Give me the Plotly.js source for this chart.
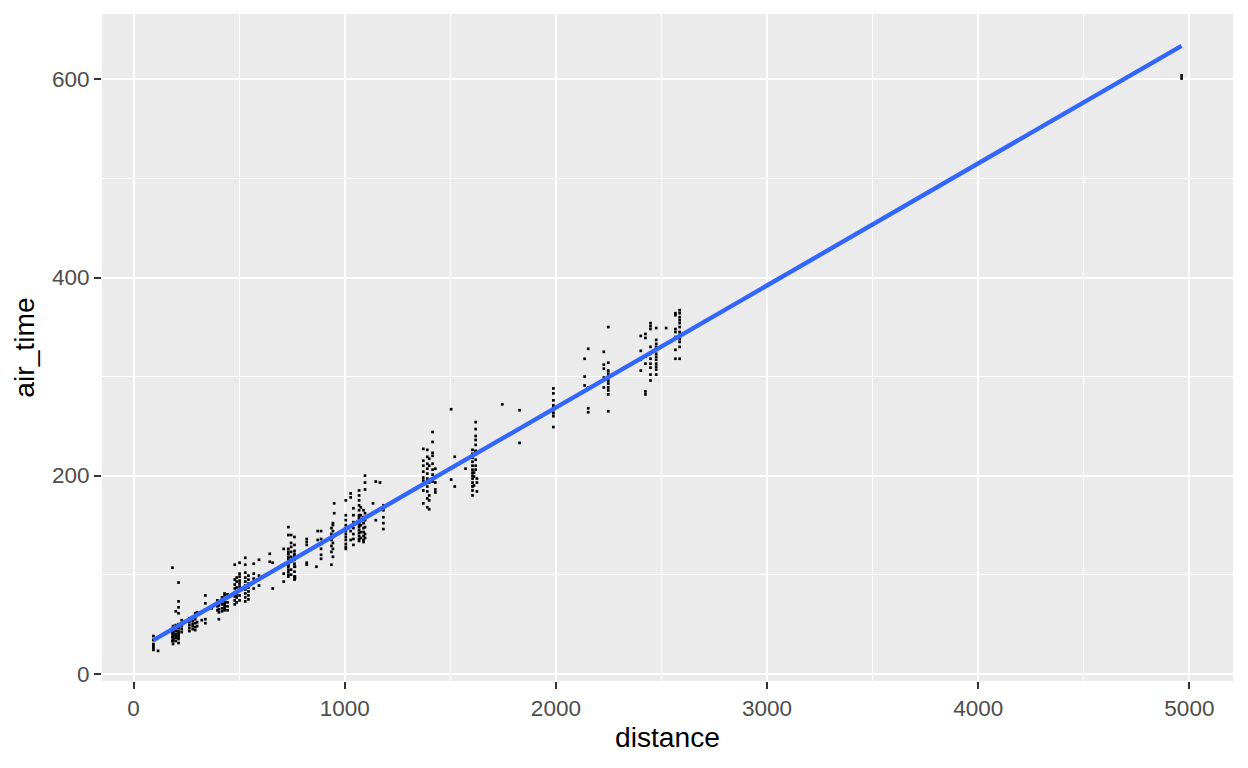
<!DOCTYPE html>
<html>
<head>
<meta charset="utf-8">
<script src="https://cdn.plot.ly/plotly-3.0.1.min.js"></script>
<style>
  html, body { margin: 0; padding: 0; background: #ffffff; }
  #chart { width: 1248px; height: 768px; }
</style>
</head>
<body>
<div id="chart"></div>
<script>
// Route distances (miles) and the air times (minutes) of the sampled flights on each
const routeDistance = [
  94, 116, 184, 187, 200, 213, 228, 264, 280, 292,
  301, 323, 340, 370, 397, 404, 419, 431, 445, 479,
  488, 502, 529, 544, 569, 594, 645, 659, 711, 733,
  746, 762, 764, 820, 866, 872, 888, 937, 944, 950,
  1005, 1028, 1041, 1068, 1076, 1089, 1096, 1134, 1147, 1167,
  1183, 1372, 1391, 1400, 1416, 1429, 1504, 1521, 1572, 1605,
  1612, 1620, 1626, 1746, 1828, 1988, 2136, 2153, 2227, 2248,
  2402, 2424, 2448, 2475, 2522, 2566, 2586, 4963
];
const routeAirTimes = [
  [38, 34, 30, 28, 26, 24],
  [23],
  [107, 33, 37, 41, 45],
  [30, 33, 35, 36, 38, 39, 40, 41, 42, 44, 46, 48],
  [33, 36, 38, 40, 43, 46, 49, 63],
  [31, 35, 37, 39, 41, 43, 46, 48, 50, 61, 67, 73, 92],
  [42, 45, 48, 50, 54],
  [43, 46, 49, 52, 56],
  [45, 48, 50, 53, 57],
  [44, 47, 51, 55, 58, 61],
  [48, 52, 62],
  [54],
  [51, 55, 71, 79],
  [66],
  [64, 68, 74],
  [55, 62, 65, 69, 72],
  [63, 66, 70, 73, 77],
  [64, 66, 68, 70, 72, 74, 76, 79, 81],
  [64, 68, 72, 80],
  [70, 74, 78, 82, 86, 90, 95, 110],
  [72, 77, 80, 83, 87, 93, 97],
  [74, 79, 84, 88, 91, 94, 98, 101, 112],
  [73, 77, 81, 85, 89, 93, 97, 102, 110, 117],
  [75, 79, 83, 87, 91, 95, 99],
  [86, 92, 96, 101, 111],
  [89, 99, 115],
  [121, 113],
  [86, 112],
  [93, 101, 110, 126],
  [148, 140, 126, 121, 116, 113, 110, 108, 105, 103, 118, 123, 98, 100],
  [140, 132, 128, 123, 118, 113, 105, 100],
  [138, 130, 124, 119, 115, 111, 108, 103, 98, 95, 121],
  [108, 98, 96],
  [136, 133, 130, 112, 110],
  [108],
  [144, 135],
  [144, 136, 131, 126, 120, 116],
  [110, 123, 129, 135, 141, 147],
  [126, 132, 138, 144, 150, 152, 118],
  [172, 162],
  [160, 155, 150, 147, 144, 141, 138, 135, 131, 128, 126, 175],
  [182, 178, 144, 135],
  [167, 160, 153, 147, 141, 136, 130],
  [185, 180, 175, 170, 165, 160, 156, 152, 148, 145, 142, 139, 136, 134, 150, 158],
  [168, 160, 150, 143, 137],
  [165, 158, 152, 147, 143, 139, 135, 133],
  [162, 155, 148, 141, 137, 200, 193, 186],
  [172],
  [194, 155],
  [193],
  [170, 165, 158, 152, 146],
  [227, 210, 204, 198, 185, 172, 195, 215],
  [226, 219, 212, 207, 202, 197, 189, 184, 177, 168],
  [217, 210, 193, 180, 175, 166],
  [244, 234, 223, 220, 212, 206, 201, 194],
  [207, 193, 186, 183],
  [267, 196],
  [219, 189],
  [207],
  [226, 222, 218, 214, 210, 206, 203, 200, 197, 193, 189, 185, 180],
  [203, 199, 190],
  [254, 247, 240, 236, 231, 225, 224, 222, 216, 210, 206],
  [197, 193, 184],
  [272],
  [266, 233],
  [288, 283, 276, 271, 269, 266, 263, 260, 249],
  [318, 300, 291],
  [328, 289, 268, 264],
  [325, 312, 308, 299, 289],
  [350, 314, 306, 303, 300, 296, 293, 289, 286, 282, 265],
  [341, 326, 317, 306],
  [343, 339, 320, 313, 285, 282],
  [354, 351, 348, 330, 323, 318, 313, 309, 302, 296],
  [349, 337, 333, 330, 327, 323, 320, 317, 313, 310, 307, 302],
  [349],
  [364, 362, 348, 345, 340, 327, 318],
  [367, 364, 360, 357, 354, 350, 345, 342, 338, 335, 330, 318],
  [604, 601]
];
const xTickVals = [0, 1000, 2000, 3000, 4000, 5000];
const yTickVals = [0, 200, 400, 600];

// flatten into one point per flight
const distance = [];
const air_time = [];
routeDistance.forEach((d, i) => {
  routeAirTimes[i].forEach(t => { distance.push(d); air_time.push(t); });
});

// linear model fit (geom_smooth(method = "lm"))
const n = distance.length;
const mx = distance.reduce((a, b) => a + b, 0) / n;
const my = air_time.reduce((a, b) => a + b, 0) / n;
let sxy = 0, sxx = 0;
for (let i = 0; i < n; i++) {
  sxy += (distance[i] - mx) * (air_time[i] - my);
  sxx += (distance[i] - mx) * (distance[i] - mx);
}
const slope = sxy / sxx;
const intercept = my - slope * mx;
const xmin = Math.min(...distance), xmax = Math.max(...distance);
const fitX = [];
const fitY = [];
for (let k = 0; k <= 80; k++) {
  const xv = xmin + (xmax - xmin) * k / 80;
  fitX.push(xv);
  fitY.push(intercept + slope * xv);
}

const tickFont = { family: 'Liberation Sans, Arial, sans-serif', size: 22.5, color: '#4D4D4D' };
const titleFont = { family: 'Liberation Sans, Arial, sans-serif', size: 28.2, color: '#000000' };

const traces = [
  {
    type: 'scatter', mode: 'markers', x: distance, y: air_time,
    marker: { symbol: 'square', size: 2.7, color: '#000000', line: { width: 0 } },
    hoverinfo: 'skip', showlegend: false
  },
  {
    type: 'scatter', mode: 'lines', x: fitX, y: fitY,
    line: { color: '#3366FF', width: 4.4 },
    hoverinfo: 'skip', showlegend: false
  }
];

const layout = {
  width: 1248, height: 768,
  margin: { l: 102, r: 15, t: 14, b: 87, pad: 0 },
  paper_bgcolor: '#FFFFFF',
  plot_bgcolor: '#EBEBEB',
  showlegend: false,
  xaxis: {
    range: [-149.5, 5206.5], autorange: false,
    tickmode: 'array', tickvals: xTickVals, ticktext: xTickVals.map(String),
    ticks: 'outside', ticklen: 7, tickwidth: 2, tickcolor: '#333333',
    tickfont: tickFont,
    showgrid: true, gridcolor: '#FFFFFF', gridwidth: 2,
    minor: { tick0: 0, dtick: 500, showgrid: true, gridcolor: '#FFFFFF', gridwidth: 1, ticks: '' },
    zeroline: false, showline: false, automargin: false,
    title: { text: 'distance', font: titleFont, standoff: 7 }
  },
  yaxis: {
    range: [-7.4, 666.1], autorange: false,
    tickmode: 'array', tickvals: yTickVals, ticktext: yTickVals.map(String),
    ticks: 'outside', ticklen: 7, tickwidth: 2, tickcolor: '#333333',
    tickfont: tickFont,
    showgrid: true, gridcolor: '#FFFFFF', gridwidth: 2,
    minor: { tick0: 0, dtick: 100, showgrid: true, gridcolor: '#FFFFFF', gridwidth: 1, ticks: '' },
    zeroline: false, showline: false, automargin: false,
    title: { text: 'air_time', font: titleFont, standoff: 9 }
  }
};

Plotly.newPlot('chart', traces, layout, { staticPlot: true, displayModeBar: false });
</script>
</body>
</html>
